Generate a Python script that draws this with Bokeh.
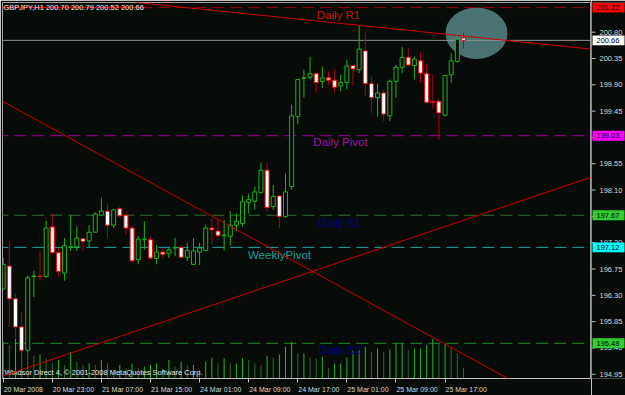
from bokeh.plotting import figure
from bokeh.layouts import row
from bokeh.models import Range1d, LinearAxis, FixedTicker, Slope
from bokeh.core.properties import value
from bokeh.embed import file_html
from bokeh.resources import INLINE

# ---------------- data (GBPJPY H1) ----------------
opens = [196.41, 196.80, 196.24, 195.76, 195.36, 196.62, 196.63, 196.62, 197.47, 197.03,
         196.68, 197.12, 197.13, 197.27, 197.23, 197.38, 197.67, 197.74, 197.50, 197.78,
         197.67, 197.45, 196.91, 197.25, 197.25, 196.93, 197.04, 197.01, 197.11, 197.12,
         196.95, 196.83, 197.04, 197.07, 197.45, 197.40, 197.32, 197.31, 197.50, 197.53,
         197.89, 197.91, 198.06, 198.44, 197.82, 198.00, 197.65, 198.16, 199.36, 200.01,
         200.03, 200.09, 199.96, 200.02, 199.98, 199.88, 199.94, 200.23, 200.16, 200.48,
         199.92, 199.68, 199.76, 199.37, 199.96, 200.20, 200.37, 200.23, 200.31, 200.09,
         199.61, 199.62, 199.38, 200.07, 200.30, 200.70]
highs = [196.94, 197.23, 196.32, 196.01, 196.64, 196.72, 197.06, 197.57, 197.70, 197.11,
         197.28, 197.67, 197.48, 197.28, 197.50, 197.72, 197.97, 197.86, 197.77, 197.82,
         197.74, 197.48, 197.31, 197.57, 197.31, 197.16, 197.11, 197.11, 197.28, 197.16,
         197.20, 197.28, 197.20, 197.51, 197.62, 197.59, 197.59, 197.74, 197.70, 198.01,
         198.04, 198.16, 198.57, 198.57, 198.19, 198.01, 198.38, 199.56, 200.00, 200.16,
         200.38, 200.10, 200.21, 200.13, 200.16, 200.07, 200.33, 200.24, 200.92, 200.81,
         200.04, 199.92, 199.81, 199.99, 200.24, 200.55, 200.52, 200.38, 200.45, 200.25,
         200.07, 199.67, 200.07, 200.44, 200.79, 200.79]
lows = [196.40, 195.76, 195.59, 195.30, 195.33, 196.27, 196.55, 196.60, 197.01, 196.62,
        196.55, 197.06, 197.06, 197.06, 197.11, 197.37, 197.66, 197.28, 197.45, 197.64,
        197.34, 196.86, 196.83, 197.08, 196.91, 196.83, 196.93, 196.94, 196.97, 196.94,
        196.89, 196.82, 196.82, 197.06, 197.17, 197.31, 197.07, 197.15, 197.40, 197.48,
        197.70, 197.76, 198.04, 197.74, 197.76, 197.45, 197.62, 198.11, 199.23, 199.68,
        199.99, 199.77, 199.85, 199.90, 199.77, 199.79, 199.82, 199.89, 200.10, 199.71,
        199.42, 199.36, 199.28, 199.28, 199.68, 200.10, 200.21, 199.99, 199.93, 199.59,
        199.49, 198.96, 199.36, 199.94, 200.28, 200.52]
closes = [196.83, 196.24, 195.76, 195.36, 196.60, 196.63, 196.62, 197.45, 197.03, 196.71,
          197.15, 197.13, 197.28, 197.22, 197.38, 197.69, 197.74, 197.50, 197.76, 197.66,
          197.45, 196.89, 197.26, 197.26, 196.94, 197.04, 197.00, 197.08, 197.12, 196.95,
          197.07, 197.06, 197.11, 197.45, 197.42, 197.32, 197.33, 197.50, 197.56, 197.90,
          197.94, 198.07, 198.44, 197.80, 197.99, 197.65, 198.07, 199.37, 199.99, 200.02,
          200.09, 199.94, 200.02, 199.98, 199.86, 199.94, 200.22, 200.17, 200.51, 199.92,
          199.68, 199.76, 199.40, 199.96, 200.20, 200.37, 200.24, 200.34, 200.10, 199.60,
          199.60, 199.42, 200.06, 200.31, 200.68, 200.66]
volumes = [370, 337, 403, 330, 270, 230, 243, 203, 153, 187,
           137, 270, 170, 137, 153, 137, 187, 153, 87, 137,
           103, 153, 103, 120, 137, 153, 103, 187, 120, 170,
           137, 137, 87, 170, 210, 153, 203, 153, 153, 203,
           187, 153, 137, 230, 210, 243, 320, 370, 253, 253,
           213, 203, 220, 103, 153, 153, 213, 287, 287, 320,
           270, 303, 270, 293, 353, 353, 287, 303, 303, 337,
           400, 353, 353, 320, 253, 103]
bars = list(range(len(opens)))

time_ticks = [0, 8, 16, 24, 32, 40, 48, 56, 64, 72]
time_labels = ["20 Mar 2008", "20 Mar 23:00", "21 Mar 07:00", "21 Mar 15:00", "24 Mar 01:00",
               "24 Mar 09:00", "24 Mar 17:00", "25 Mar 01:00", "25 Mar 09:00", "25 Mar 17:00"]
price_ticks = [194.95, 195.40, 195.85, 196.30, 196.75, 197.20, 197.65,
               198.10, 198.55, 199.00, 199.45, 199.90, 200.35, 200.80]

level_prices = [201.22, 199.03, 197.67, 197.12, 195.48]
level_colors = ["#a00000", "#a000a0", "#2e6e2e", "#1fa2a8", "#1f8f1f"]
bid_price = 200.66

level_names = ["Daily R1", "Daily Pivot", "Daily S1", "WeeklyPivot", "Daily S2"]
name_x = [54.64, 54.96, 54.80, 45.02, 54.88]
name_y = [201.088, 198.922, 197.534, 196.993, 195.369]
name_colors = ["#cc1010", "#a010a0", "#000090", "#1a9a9a", "#000090"]

box_prices = [201.22, 200.66, 199.03, 197.67, 197.12, 195.48]
box_colors = ["#ff0000", "#ffffff", "#ff00ff", "#32cd32", "#00ffff", "#32cd32"]

# trend lines: two anchor points each (bar, price)
trend_x0 = [48.44, 22.86, 18.79]
trend_p0 = [201.02, 198.296, 195.589]
trend_x1 = [95.70, 82.13, 51.70]
trend_p1 = [200.512, 194.883, 196.756]
r1_prev_end = 23.2

ell_x, ell_y, ell_w, ell_h = 77.12, 200.783, 10.1, 0.88

title_text = "GBPJPY,H1  200.70 200.79 200.52 200.66"
copy_text = "Windsor Direct 4, \u00a9 2001-2008 MetaQuotes Software Corp."

# ---------------- layout ----------------
BG = "#080c08"
W, H = 625, 395
FRAME_L, FRAME_R, FRAME_T, FRAME_B = 2, 590, 2, 382
MAIN_W = FRAME_R + 1
SIDE_W = W - MAIN_W
BAR_PX = 6.137
PRICE_PX = 59.1
BAR0_PX = 2.7
REF_PRICE, REF_PX = 200.80, 32
FONT = "Liberation Sans"
AXIS_COL = "#c0c0c0"
LABEL_COL = "#d8d8d8"

x_start = (FRAME_L - BAR0_PX) / BAR_PX
x_end = (FRAME_R - BAR0_PX) / BAR_PX
y_top = REF_PRICE + (REF_PX - FRAME_T) / PRICE_PX
y_bot = REF_PRICE - (FRAME_B - REF_PX) / PRICE_PX


def px_x(px):
    return (px - BAR0_PX) / BAR_PX


def px_y(py):
    return REF_PRICE - (py - REF_PX) / PRICE_PX


yr = Range1d(y_bot, y_top)
p = figure(width=MAIN_W, height=H, x_range=Range1d(x_start, x_end), y_range=yr,
           output_backend="svg", toolbar_location=None,
           x_axis_location=None, y_axis_location=None,
           min_border_left=FRAME_L, min_border_right=MAIN_W - FRAME_R,
           min_border_top=FRAME_T, min_border_bottom=H - FRAME_B,
           background_fill_color=BG, border_fill_color=BG,
           outline_line_color="#a0a0a0", outline_line_width=1)
p.grid.visible = False

p.extra_y_ranges = {"vol": Range1d(0, (FRAME_B - FRAME_T) * 10)}

# ellipse highlight
p.ellipse(x=[ell_x], y=[ell_y], width=[ell_w], height=[ell_h],
          fill_color="#4a7272", line_color=None)

# level lines (dashed) and bid line
n_lv = len(level_prices)
p.segment(x0=[x_start - 1] * n_lv, y0=level_prices, x1=[x_end + 1] * n_lv, y1=level_prices,
          line_color=level_colors, line_width=1, line_dash="12 6")
p.segment(x0=[x_start - 1], y0=[level_prices[0]], x1=[r1_prev_end], y1=[level_prices[0]],
          line_color="#d00000", line_width=1.5)
p.segment(x0=[x_start - 1], y0=[bid_price], x1=[x_end + 1], y1=[bid_price],
          line_color="#8c9494", line_width=1)

# volumes
vol_colors = ["#22b822" if (i == 0 or v >= volumes[i - 1]) else "#2e6a2e"
              for i, v in enumerate(volumes)]
p.segment(x0=bars, y0=[0] * len(bars), x1=bars, y1=volumes, y_range_name="vol",
          line_color=vol_colors, line_width=1)

# candles
up = [c >= o for o, c in zip(opens, closes)]
wick_colors = ["#1db31d" if u else "#b00018" for u in up]
p.segment(x0=bars, y0=lows, x1=bars, y1=highs, line_color=wick_colors, line_width=1)
tops = [max(o, c) for o, c in zip(opens, closes)]
bots = [min(o, c) for o, c in zip(opens, closes)]
p.vbar(x=bars, top=tops, bottom=bots, width=0.65,
       fill_color=[BG if u else "#ffffff" for u in up],
       line_color=["#1db31d" if u else "#ff0000" for u in up], line_width=1)

# trend lines
for x0, p0, x1, p1 in zip(trend_x0, trend_p0, trend_x1, trend_p1):
    g = (p1 - p0) / (x1 - x0)
    p.add_layout(Slope(gradient=g, y_intercept=p0 - g * x0, line_color="#d00000", line_width=1))

# level names
p.text(x=name_x, y=name_y, text=level_names, text_color=name_colors,
       text_font=value(FONT), text_font_size="11.5px", text_align="center", text_baseline="middle")

# title and copyright
p.text(x=[px_x(3)], y=[px_y(7)], text=[title_text], text_color="#e6e6e6",
       text_font=value(FONT), text_font_size="7.5px", text_align="left", text_baseline="middle")
p.text(x=[px_x(4)], y=[px_y(376)], text=[copy_text], text_color="#e6e6e6",
       text_font=value(FONT), text_font_size="7.5px", text_align="left", text_baseline="middle")

# bottom time axis: tick marks as minor ticks, labels left-aligned after each tick
CW = {" ": 0.278, ":": 0.278, "M": 0.833, "a": 0.556, "r": 0.333}
DATE_FS = 7.0


def text_w(s):
    return sum(CW.get(ch, 0.556) for ch in s) * DATE_FS


label_pos = [round(t + (0.5 + text_w(s) / 2) / BAR_PX, 4) for t, s in zip(time_ticks, time_labels)]
xax = LinearAxis(ticker=FixedTicker(ticks=label_pos, minor_ticks=time_ticks),
                 major_label_overrides={lp: s for lp, s in zip(label_pos, time_labels)},
                 axis_line_color=AXIS_COL, major_tick_line_color=None,
                 major_tick_out=0, major_tick_in=0,
                 minor_tick_line_color=AXIS_COL, minor_tick_out=4, minor_tick_in=0,
                 major_label_standoff=3, major_label_text_color=LABEL_COL,
                 major_label_text_font=FONT, major_label_text_font_size="7px")
p.add_layout(xax, "below")

# ---------------- right price scale (shares the price range) ----------------
s = figure(width=SIDE_W, height=H, x_range=Range1d(0, SIDE_W), y_range=yr,
           output_backend="svg", toolbar_location=None,
           x_axis_location=None, y_axis_location=None,
           min_border_left=0, min_border_right=0,
           min_border_top=FRAME_T, min_border_bottom=H - FRAME_B,
           background_fill_color=BG, border_fill_color=BG, outline_line_color=None)
s.grid.visible = False

nt = len(price_ticks)
s.segment(x0=[0] * nt, y0=price_ticks, x1=[4] * nt, y1=price_ticks,
          line_color=AXIS_COL, line_width=1)
half_box = 5.0 / PRICE_PX
shown = [t for t in price_ticks if min(abs(t - b) for b in box_prices) > 0.05]
s.text(x=[8] * len(shown), y=shown, text=[f"{t:.2f}" for t in shown], text_color=LABEL_COL,
       text_font=value(FONT), text_font_size="7.5px", text_align="left", text_baseline="middle")
nb = len(box_prices)
s.quad(left=[1] * nb, right=[SIDE_W - 1] * nb,
       top=[b + half_box for b in box_prices], bottom=[b - half_box for b in box_prices],
       fill_color=box_colors, line_color=None)
s.text(x=[5] * nb, y=box_prices, text=[f"{b:.2f}" for b in box_prices], text_color="#000000",
       text_font=value(FONT), text_font_size="7.5px", text_align="left", text_baseline="middle")

layout = row(p, s, spacing=0)
open("out.html", "w").write(file_html(layout, INLINE))
